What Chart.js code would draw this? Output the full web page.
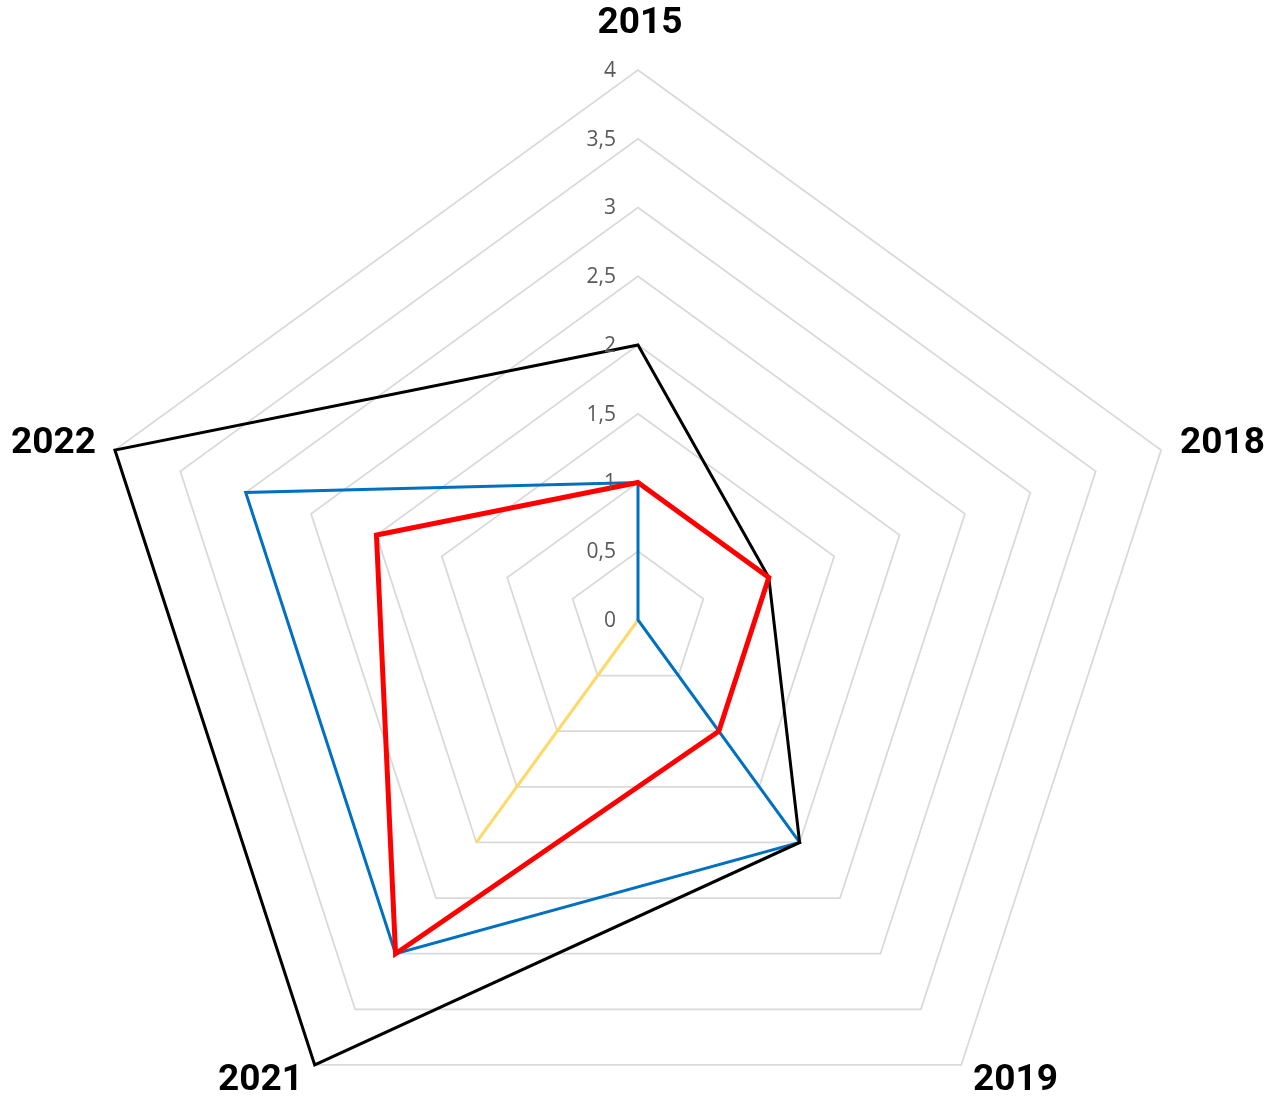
<!DOCTYPE html>
<html>
<head>
<meta charset="utf-8">
<script src="https://cdn.jsdelivr.net/npm/chart.js@4/dist/chart.umd.min.js"></script>
<style>
  body { margin: 0; background: #fff; }
  canvas { display: block; }
</style>
</head>
<body>
<canvas id="c" width="1272" height="1101"></canvas>
<script>
// axes and values
const years = ['2015', '2018', '2019', '2021', '2022'];
const redVals = [1, 1, 1, 3, 2];
const blackVals = [2, 1, 2, 4, 4];
const blueVals = [1, 0, 2, 3, 3];
const yellowVals = [0, 0, 0, 2, 0];
const tickVals = [0, 0.5, 1, 1.5, 2, 2.5, 3, 3.5, 4];

// center and radius of the web, in px
const cx = 638, cy = 620, radius = 550;

const labelsPlugin = {
    id: 'webLabels',
    afterDraw: (chart) => {
        const { ctx } = chart;
        const r = chart.scales.r;
        ctx.save();

        // value labels, to the left of the vertical axis
        ctx.font = '21px "Open Sans"';
        ctx.fillStyle = '#595959';
        ctx.textAlign = 'right';
        ctx.textBaseline = 'middle';
        for (const v of tickVals) {
            const p = r.getPointPositionForValue(0, v);
            ctx.fillText(String(v).replace('.', ','), p.x - 22, p.y + 1);
        }

        // year labels round the outside
        ctx.font = 'bold 37px Roboto';
        ctx.fillStyle = '#000';
        ctx.textBaseline = 'middle';
        years.forEach((y, i) => {
            const extra = i === 0 ? 46 : 20;
            const p = r.getPointPosition(i, r.drawingArea + extra);
            if (Math.abs(p.x - r.xCenter) < 5) ctx.textAlign = 'center';
            else ctx.textAlign = p.x > r.xCenter ? 'left' : 'right';
            ctx.fillText(y, p.x + (i === 0 ? 2 : 0), p.y);
        });
        ctx.restore();
    }
};

new Chart(document.getElementById('c'), {
    type: 'radar',
    data: {
        labels: years,
        datasets: [
            { label: 'Series 4', data: redVals, borderColor: '#FF0000', borderWidth: 5 },
            { label: 'Series 1', data: blackVals, borderColor: '#000000', borderWidth: 3 },
            { label: 'Series 2', data: blueVals, borderColor: '#0070C0', borderWidth: 3 },
            { label: 'Series 3', data: yellowVals, borderColor: '#FFD966', borderWidth: 3 },
        ],
    },
    options: {
        responsive: false,
        animation: false,
        elements: {
            point: { radius: 0, hoverRadius: 0 },
            line: { fill: false, tension: 0, borderJoinStyle: 'miter' },
        },
        plugins: {
            legend: { display: false },
            tooltip: { enabled: false },
        },
        scales: {
            r: {
                min: 0,
                max: 4,
                ticks: { display: false, stepSize: 0.5 },
                pointLabels: { display: false },
                angleLines: { display: false },
                grid: { color: '#d9d9d9', lineWidth: 1.75 },
                afterFit: (s) => {
                    s.xCenter = cx;
                    s.yCenter = cy;
                    s.drawingArea = radius;
                },
            },
        },
    },
    plugins: [labelsPlugin],
});
</script>
</body>
</html>
